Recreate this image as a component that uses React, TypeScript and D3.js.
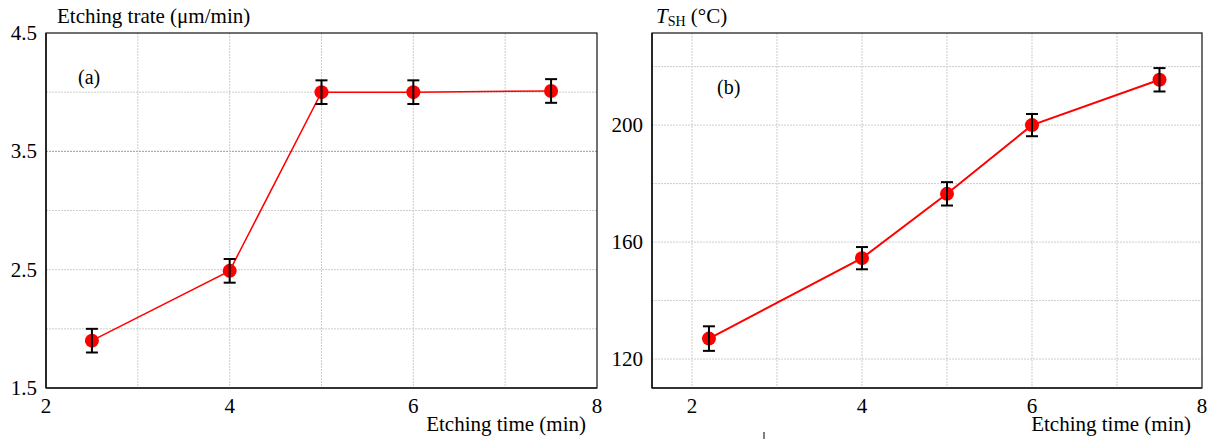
import React from "react";
import * as d3 from "d3";

// Panel (a): etching rate vs etching time
const timesA = [2.5, 4, 5, 6, 7.5];
const rateA = [1.9, 2.49, 4.0, 4.0, 4.01];
const errA = [0.1, 0.1, 0.1, 0.1, 0.1];
const yTicksA = [1.5, 2.5, 3.5, 4.5];
const yGridA = [2.0, 2.5, 3.0, 3.5, 4.0];
const xTicksA = [2, 4, 6, 8];
const xGridA = [3, 4, 5, 6, 7];

// Panel (b): T_SH vs etching time
const timesB = [2.2, 4, 5, 6, 7.5];
const tshB = [127, 154.5, 176.5, 200, 215.5];
const errB = [4.2, 3.8, 4, 3.8, 4];
const yTicksB = [120, 160, 200];
const yGridB = [120, 140, 160, 180, 200, 220];
const xTicksB = [2, 4, 6, 8];
const xGridB = [2, 3, 4, 5, 6, 7];

const FONT = "Liberation Serif, Times New Roman, Times, DejaVu Serif, serif";
const fs = (size: number): React.CSSProperties => ({ fontFamily: FONT, fontSize: size });

type PanelProps = {
  left: number; right: number; top: number; bottom: number;
  xDomain: [number, number]; yDomain: [number, number];
  xs: number[]; ys: number[]; errs: number[];
  yTicks: number[]; yGrid: number[]; xTicks: number[]; xGrid: number[];
  yFmt: (v: number) => string; label: string; labelX: number; labelY: number;
  yTitle: React.ReactNode; xTitleRight: number; darkGrid?: number; lineW: number;
};

function Panel(p: PanelProps) {
  const x = d3.scaleLinear().domain(p.xDomain).range([p.left, p.right]);
  const y = d3.scaleLinear().domain(p.yDomain).range([p.bottom, p.top]);
  const line = d3.line<number>().x((_, i) => x(p.xs[i])).y((v) => y(v));
  return (
    <g>
      {p.yGrid.map((g) => (
        <line key={"hy" + g} x1={p.left} x2={p.right} y1={y(g)} y2={y(g)}
          stroke={p.darkGrid === g ? "#999" : "#ccc"} strokeWidth={1}
          strokeDasharray="2,1" />
      ))}
      {p.xGrid.map((g) => (
        <line key={"vx" + g} x1={x(g)} x2={x(g)} y1={p.top} y2={p.bottom}
          stroke="#ccc" strokeWidth={1} strokeDasharray="2,1" />
      ))}
      <rect x={p.left} y={p.top} width={p.right - p.left} height={p.bottom - p.top}
        fill="none" stroke="#111" strokeWidth={1.2} />
      <line x1={p.left} x2={p.right} y1={p.bottom} y2={p.bottom} stroke="#333" strokeWidth={2} />
      <line x1={p.left} x2={p.left} y1={p.top} y2={p.bottom} stroke="#111" strokeWidth={1.5} />
      {p.yTicks.map((t) => (
        <text key={"yt" + t} x={p.left - 9} y={y(t) + 7} textAnchor="end" style={fs(21)}>
          {p.yFmt(t)}
        </text>
      ))}
      {p.xTicks.map((t) => (
        <text key={"xt" + t} x={x(t)} y={p.bottom + 25} textAnchor="middle" style={fs(21)}>
          {t}
        </text>
      ))}
      <path d={line(p.ys) || ""} fill="none" stroke="#ff0000" strokeWidth={p.lineW} />
      {p.ys.map((v, i) => (
        <circle key={"c" + i} cx={x(p.xs[i])} cy={y(v)} r={7} fill="#ff0000" />
      ))}
      {p.ys.map((v, i) => {
        const cx = x(p.xs[i]);
        const y1 = y(v + p.errs[i]);
        const y2 = y(v - p.errs[i]);
        return (
          <g key={"e" + i} stroke="#000" strokeWidth={2}>
            <line x1={cx} x2={cx} y1={y1} y2={y2} />
            <line x1={cx - 6} x2={cx + 6} y1={y1} y2={y1} />
            <line x1={cx - 6} x2={cx + 6} y1={y2} y2={y2} />
          </g>
        );
      })}
      <text x={p.labelX} y={p.labelY} style={fs(20)}>{p.label}</text>
      {p.yTitle}
      <text x={p.xTitleRight} y={431} textAnchor="end" style={fs(21)}>Etching time (min)</text>
    </g>
  );
}

export default function App() {
  return (
    <div>
      <style>{"body{margin:0}"}</style>
      <svg width={1214} height={439} style={{ display: "block", background: "#fff" }}>
        <Panel left={46} right={597} top={33} bottom={388}
          xDomain={[2, 8]} yDomain={[1.5, 4.5]}
          xs={timesA} ys={rateA} errs={errA}
          yTicks={yTicksA} yGrid={yGridA} xTicks={xTicksA} xGrid={xGridA}
          yFmt={(v) => v.toFixed(1)} label="(a)" labelX={78} labelY={84}
          darkGrid={3.5} lineW={1.5} xTitleRight={586}
          yTitle={<text x={57} y={23} style={fs(21)}>Etching trate (μm/min)</text>}
        />
        <Panel left={652} right={1202} top={33} bottom={388}
          xDomain={[1.53, 8]} yDomain={[110.1, 231.5]}
          xs={timesB} ys={tshB} errs={errB}
          yTicks={yTicksB} yGrid={yGridB} xTicks={xTicksB} xGrid={xGridB}
          yFmt={(v) => String(v)} label="(b)" labelX={717} labelY={94}
          lineW={2} xTitleRight={1191}
          yTitle={
            <text x={656} y={23} style={fs(21)}>
              <tspan fontStyle="italic">T</tspan>
              <tspan style={{ fontSize: 14 }} dy={3}>SH</tspan>
              <tspan dy={-3}> (°C)</tspan>
            </text>
          }
        />
        <line x1={764} x2={764} y1={432} y2={439} stroke="#000" strokeWidth={1} />
      </svg>
    </div>
  );
}
